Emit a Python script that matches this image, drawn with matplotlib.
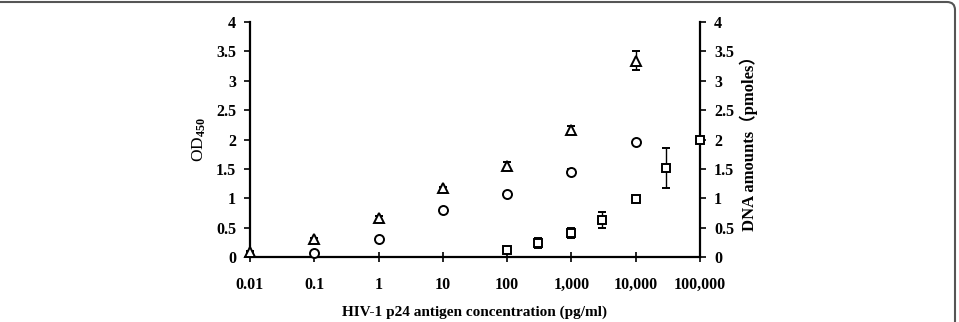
import matplotlib
matplotlib.use("Agg")
import matplotlib.pyplot as plt
from matplotlib.patches import FancyBboxPatch
from matplotlib.transforms import IdentityTransform
from matplotlib.ticker import FixedLocator, FixedFormatter, NullLocator

# data
x_ticks = [0.01, 0.1, 1, 10, 100, 1000, 10000, 100000]
x_labels = ["0.01", "0.1", "1", "10", "100", "1,000", "10,000", "100,000"]
y_ticks = [0, 0.5, 1, 1.5, 2, 2.5, 3, 3.5, 4]
y_labels = ["0", "0.5", "1", "1.5", "2", "2.5", "3", "3.5", "4"]

conc_tri = [0.01, 0.1, 1, 10, 100, 1000, 10000]
od_tri = [0.09, 0.30, 0.66, 1.17, 1.55, 2.16, 3.34]
od_tri_err = [0.02, 0.02, 0.03, 0.03, 0.06, 0.07, 0.16]

conc_circ = [0.1, 1, 10, 100, 1000, 10000]
od_circ = [0.06, 0.30, 0.80, 1.07, 1.45, 1.95]
od_circ_err = [0.02, 0.02, 0.02, 0.03, 0.05, 0.03]

conc_dna = [100, 300, 1000, 3000, 10000, 30000, 100000]
dna = [0.12, 0.24, 0.41, 0.63, 0.99, 1.52, 1.99]
dna_err = [0.02, 0.09, 0.08, 0.13, 0.02, 0.34, 0.03]

serif = ["Liberation Serif", "Noto Sans CJK SC"]
plt.rcParams["font.family"] = serif
plt.rcParams["font.weight"] = "bold"
plt.rcParams["mathtext.fontset"] = "custom"
plt.rcParams["mathtext.rm"] = "Liberation Serif"
plt.rcParams["mathtext.it"] = "Liberation Serif:italic"

fig = plt.figure(figsize=(9.59, 3.22), dpi=100)
ax = fig.add_axes([250 / 959, 1 - 257 / 322, 450 / 959, 235 / 322])
ax2 = ax.twinx()

mk = dict(linestyle="none", mfc="white", mec="black", mew=1.4,
          ecolor="black", elinewidth=1.0, capsize=3, capthick=1.0, clip_on=False)
ax.errorbar(conc_tri, od_tri, yerr=od_tri_err, marker="^", ms=7, zorder=5, **mk)
ax.errorbar(conc_circ, od_circ, yerr=od_circ_err, marker="o", ms=6.5, zorder=5, **mk)
ax2.errorbar(conc_dna, dna, yerr=dna_err, marker="s", ms=5.5, zorder=5, **mk)

for a in (ax, ax2):
    a.set_xscale("log")
    a.set_xlim(0.01, 100000)
    a.set_ylim(0, 4)
    a.yaxis.set_major_locator(FixedLocator(y_ticks))
    a.yaxis.set_major_formatter(FixedFormatter(y_labels))
    a.spines["top"].set_visible(False)
    for s in a.spines.values():
        s.set_linewidth(1.6)

ax.spines["right"].set_visible(False)
ax2.spines["left"].set_visible(False)
ax2.spines["bottom"].set_visible(False)

ax.xaxis.set_major_locator(FixedLocator(x_ticks))
ax.xaxis.set_major_formatter(FixedFormatter(x_labels))
ax.xaxis.set_minor_locator(NullLocator())
ax.tick_params(axis="x", direction="inout", length=7, width=1.2, pad=11,
               labelsize=11.5)
ax.tick_params(axis="y", direction="out", length=4, width=1.2, pad=6,
               labelsize=11.5)
ax2.tick_params(axis="y", direction="out", length=4, width=1.2, pad=6,
                labelsize=11.5)

ax.set_xlabel("HIV-1 p24 antigen concentration (pg/ml)", fontsize=11,
              fontweight="bold", labelpad=9)
ax.set_ylabel(r"OD$_{\mathit{450}}$", fontsize=12.5, fontweight="normal",
              labelpad=6)
ax2.set_ylabel("DNA amounts（pmoles）", fontsize=12, fontweight="bold",
               labelpad=4, family=serif)

frame = FancyBboxPatch((-20, -20), 975, 340, boxstyle="round,pad=0,rounding_size=8",
                       transform=IdentityTransform(), fill=False,
                       edgecolor="#555555", linewidth=1.5)
fig.patches.append(frame)

fig.savefig("out.png", dpi=100)
